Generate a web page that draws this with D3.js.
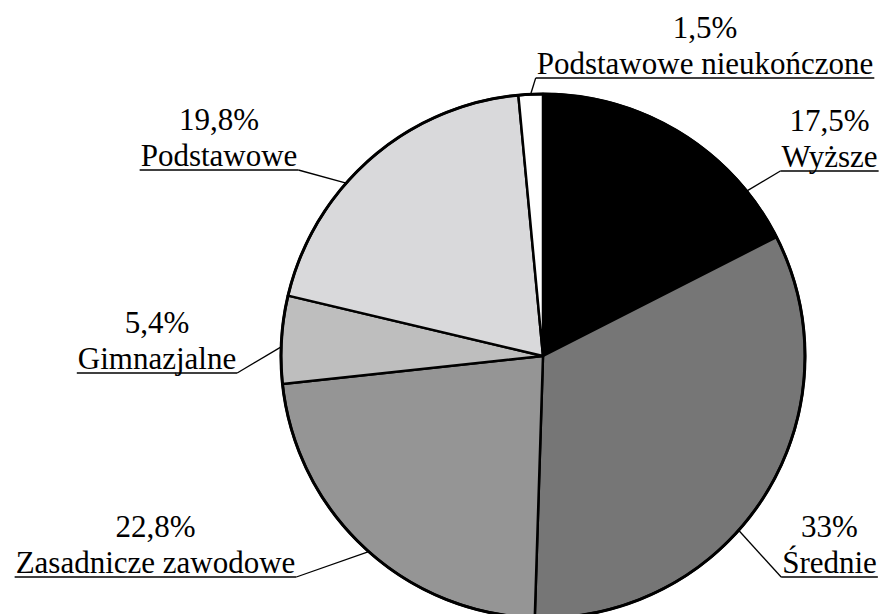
<!DOCTYPE html>
<html>
<head>
<meta charset="utf-8">
<script src="https://cdn.jsdelivr.net/npm/d3@7"></script>
</head>
<body style="margin:0;background:#fff">
<svg id="chart" width="881" height="614"></svg>
<script>
// ---- data ----
const categories = ["Wyższe", "Średnie", "Zasadnicze zawodowe", "Gimnazjalne", "Podstawowe", "Podstawowe nieukończone"];
const values = [17.5, 33, 22.8, 5.4, 19.8, 1.5];
const valueLabels = ["17,5%", "33%", "22,8%", "5,4%", "19,8%", "1,5%"];
const colors = ["#000000", "#767676", "#959595", "#bebebe", "#d9d9db", "#ffffff"];

// ---- layout (label placement) ----
const labelCenterX = [829.5, 829.5, 155.5, 157, 219, 705];
const labelBaseline = [167, 573, 573, 369, 166, 74];
const labelSide = ["right", "right", "left", "left", "left", "top"];
const leaderAngleDeg = [51, 131.7, 221.7, 272, 311.3, 357.3];

const cx = 543, cy = 356, R = 262;
const lineGap = 36.5;
const FAMILY = '"Times New Roman", "Liberation Serif", Tinos, serif';

const svg = d3.select("#chart");
const data = categories.map((c, i) => ({ name: c, value: values[i], label: valueLabels[i], color: colors[i], i }));

const pie = d3.pie().sort(null).value(d => d.value);
const arc = d3.arc().innerRadius(0).outerRadius(R);
const arcs = pie(data);

const g = svg.append("g").attr("transform", `translate(${cx},${cy})`);
g.selectAll("path.slice")
  .data(arcs)
  .enter().append("path")
  .attr("class", "slice")
  .attr("d", arc)
  .attr("fill", d => d.data.color)
  .attr("stroke", "#000")
  .attr("stroke-width", 2.5)
  .attr("stroke-linejoin", "round");

g.append("circle").attr("r", R).attr("fill", "none").attr("stroke", "#000").attr("stroke-width", 3);

// labels
const lg = svg.append("g");
data.forEach((d, i) => {
  const x = labelCenterX[i], yb = labelBaseline[i];
  lg.append("text")
    .attr("x", x).attr("y", yb - lineGap)
    .attr("text-anchor", "middle")
    .style("font-family", FAMILY)
    .style("font-size", "31px")
    .attr("fill", "#000")
    .text(d.label);
  const t = lg.append("text")
    .attr("x", x).attr("y", yb)
    .attr("text-anchor", "middle")
    .style("font-family", FAMILY)
    .style("font-size", "31px")
    .attr("fill", "#000")
    .text(d.name);
  const w = t.node().getComputedTextLength();
  const x0 = x - w / 2 - 1, x1 = x + w / 2 + 1;
  const uy = yb + 4;
  lg.append("line")
    .attr("x1", x0).attr("x2", x1).attr("y1", uy).attr("y2", uy)
    .attr("stroke", "#000").attr("stroke-width", 1.6);
  // leader
  const a = leaderAngleDeg[i] * Math.PI / 180;
  const px = cx + R * Math.sin(a), py = cy - R * Math.cos(a);
  const sx = labelSide[i] === "left" ? x1 : x0;
  lg.append("line")
    .attr("x1", sx).attr("y1", uy)
    .attr("x2", px).attr("y2", py)
    .attr("stroke", "#000").attr("stroke-width", 1.3);
});
</script>
</body>
</html>
